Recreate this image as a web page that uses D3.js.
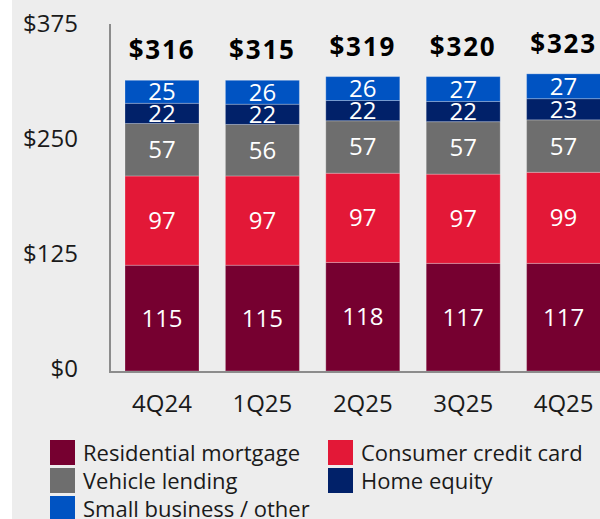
<!DOCTYPE html>
<html>
<head>
<meta charset="utf-8">
<script src="https://cdn.jsdelivr.net/npm/d3@7"></script>
<style>
  body { margin: 0; background: #fff; }
  svg { display: block; font-family: "Open Sans", sans-serif; }
  .tick-label { font-size: 24px; fill: #1a1a1a; }
  .cat-label { font-size: 24px; fill: #1a1a1a; }
  .seg-label { font-size: 24px; fill: #fff; }
  .total-label { font-size: 26px; font-weight: 700; fill: #000; letter-spacing: 1.8px; }
  .legend-label { font-size: 22px; fill: #1a1a1a; }
</style>
</head>
<body>
<script>
// Consumer loans by type ($B)
var quarters = ["4Q24", "1Q25", "2Q25", "3Q25", "4Q25"];
var seriesNames = ["Residential mortgage", "Consumer credit card", "Vehicle lending", "Home equity", "Small business / other"];
var residential = [115, 115, 118, 117, 117];
var creditCard = [97, 97, 97, 97, 99];
var vehicle = [57, 56, 57, 57, 57];
var homeEquity = [22, 22, 22, 22, 23];
var smallBusiness = [25, 26, 26, 27, 27];
var totals = [316, 315, 319, 320, 323];
var yTicks = [0, 125, 250, 375];

var colors = ["#760030", "#e31837", "#6e6e6e", "#012169", "#0053c2"];
var seriesValues = [residential, creditCard, vehicle, homeEquity, smallBusiness];

var w = 600, h = 519;

var svg = d3.select("body").append("svg")
    .attr("width", w)
    .attr("height", h);

// gray panel
svg.append("rect")
    .attr("x", 12).attr("y", 0)
    .attr("width", w - 12).attr("height", h)
    .attr("fill", "#ededed");

var x = d3.scaleBand()
    .domain(quarters)
    .range([111.8, 613.8])
    .paddingInner(0.263)
    .paddingOuter(0.1315);

var y = d3.scaleLinear()
    .domain([0, 375])
    .range([371, 26]);

// build stacked rows
var rows = quarters.map(function(q, i) {
    var r = { q: q };
    seriesNames.forEach(function(s, k) { r[s] = seriesValues[k][i]; });
    return r;
});
var stack = d3.stack().keys(seriesNames)(rows);

var layers = svg.append("g").selectAll("g")
    .data(stack)
    .enter().append("g")
    .attr("fill", function(d, k) { return colors[k]; });

layers.selectAll("rect")
    .data(function(d) { return d; })
    .enter().append("rect")
    .attr("x", function(d) { return x(d.data.q); })
    .attr("y", function(d) { return y(d[1]); })
    .attr("width", x.bandwidth())
    .attr("height", function(d) { return y(d[0]) - y(d[1]); })
    .attr("stroke", "rgba(255,255,255,0.25)")
    .attr("stroke-width", 1);

layers.selectAll("text")
    .data(function(d) { return d; })
    .enter().append("text")
    .attr("class", "seg-label")
    .attr("x", function(d) { return x(d.data.q) + x.bandwidth() / 2; })
    .attr("y", function(d) { return (y(d[0]) + y(d[1])) / 2 + 8.5; })
    .attr("text-anchor", "middle")
    .text(function(d) { return d[1] - d[0]; });

// totals above the bars
svg.append("g").selectAll("text")
    .data(quarters)
    .enter().append("text")
    .attr("class", "total-label")
    .attr("x", function(q) { return x(q) + x.bandwidth() / 2; })
    .attr("y", function(q, i) { return y(stack[stack.length - 1][i][1]) - 21; })
    .attr("text-anchor", "middle")
    .text(function(q, i) { return "$" + totals[i]; });

// axes lines
svg.append("line")
    .attr("x1", 110).attr("x2", 110)
    .attr("y1", y(375) - 2).attr("y2", y(0) + 1)
    .attr("stroke", "#8c8c8c").attr("stroke-width", 2);
svg.append("line")
    .attr("x1", 109).attr("x2", w)
    .attr("y1", y(0) + 1).attr("y2", y(0) + 1)
    .attr("stroke", "#8c8c8c").attr("stroke-width", 2);

// y tick labels
svg.append("g").selectAll("text")
    .data(yTicks)
    .enter().append("text")
    .attr("class", "tick-label")
    .attr("x", 78)
    .attr("y", function(d) { return y(d) + 6; })
    .attr("text-anchor", "end")
    .text(function(d) { return "$" + d; });

// category labels
svg.append("g").selectAll("text")
    .data(quarters)
    .enter().append("text")
    .attr("class", "cat-label")
    .attr("x", function(q) { return x(q) + x.bandwidth() / 2; })
    .attr("y", 412)
    .attr("text-anchor", "middle")
    .text(function(q) { return q; });

// legend: two columns, filled row by row
var legend = svg.append("g").selectAll("g")
    .data(seriesNames)
    .enter().append("g")
    .attr("transform", function(d, k) {
        var col = k % 2, row = Math.floor(k / 2);
        return "translate(" + (col ? 328 : 50) + "," + (440 + row * 28) + ")";
    });

legend.append("rect")
    .attr("width", 25).attr("height", 25)
    .attr("fill", function(d, k) { return colors[k]; });

legend.append("text")
    .attr("class", "legend-label")
    .attr("x", 33)
    .attr("y", 21)
    .text(function(d) { return d; });
</script>
</body>
</html>
